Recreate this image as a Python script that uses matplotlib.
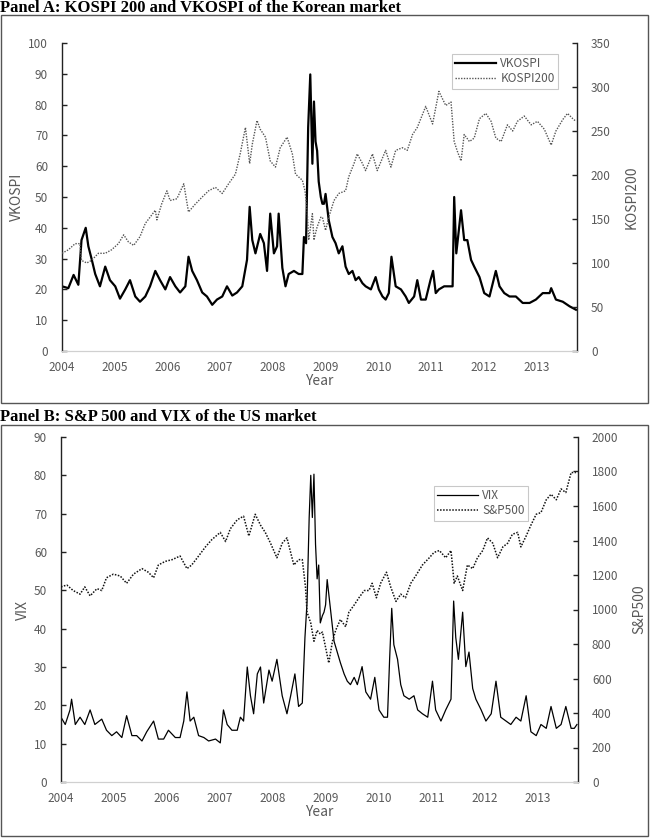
import matplotlib
matplotlib.use("Agg")
import matplotlib.pyplot as plt
from matplotlib.patches import Rectangle

plt.rcParams['font.family'] = ['Noto Sans CJK KR', 'DejaVu Sans']

# ==========================================
# Data
# ==========================================

vkospi_t = [2004.00, 2004.12, 2004.22, 2004.31, 2004.37, 2004.45, 2004.50, 2004.56, 2004.63, 2004.72,
            2004.82, 2004.91, 2005.01, 2005.10, 2005.20, 2005.29, 2005.39, 2005.48, 2005.58, 2005.67,
            2005.77, 2005.86, 2005.96, 2006.05, 2006.15, 2006.24, 2006.34, 2006.40, 2006.47, 2006.56,
            2006.66, 2006.75, 2006.85, 2006.94, 2007.04, 2007.13, 2007.23, 2007.32, 2007.42, 2007.51,
            2007.56, 2007.61, 2007.67, 2007.76, 2007.83, 2007.89, 2007.95, 2008.02, 2008.08, 2008.11,
            2008.18, 2008.24, 2008.30, 2008.40, 2008.49, 2008.56, 2008.59, 2008.63, 2008.67, 2008.71,
            2008.75, 2008.78, 2008.81, 2008.84, 2008.87, 2008.91, 2008.94, 2008.97, 2009.00, 2009.06,
            2009.13, 2009.19, 2009.25, 2009.32, 2009.38, 2009.44, 2009.51, 2009.57, 2009.63, 2009.70,
            2009.76, 2009.86, 2009.95, 2010.01, 2010.08, 2010.14, 2010.20, 2010.25, 2010.33, 2010.43,
            2010.52, 2010.58, 2010.68, 2010.74, 2010.81, 2010.90, 2010.99, 2011.04, 2011.09, 2011.15,
            2011.25, 2011.34, 2011.41, 2011.44, 2011.48, 2011.57, 2011.63, 2011.69, 2011.76, 2011.82,
            2011.92, 2012.01, 2012.11, 2012.23, 2012.30, 2012.39, 2012.49, 2012.61, 2012.74, 2012.87,
            2012.99, 2013.12, 2013.25, 2013.28, 2013.37, 2013.50, 2013.63, 2013.75]
vkospi = [21, 20.4, 24.7, 21.5, 36, 40, 34, 30, 25, 21,
          27.4, 23, 21, 17, 20, 23, 17.7, 16, 17.7, 21,
          26, 23, 20, 24, 21, 19, 21, 30.6, 26, 23,
          19, 17.7, 15, 16.7, 17.7, 21, 18, 19, 21, 29.6,
          46.8, 36, 31.7, 38, 35, 26, 44.6, 31.7, 34, 44.6,
          27, 21, 25, 26, 25, 25, 37, 35, 72.6, 89.8,
          60.8, 81, 68, 65, 55, 50, 47.8, 47.8, 51, 42.5,
          37, 35, 31.7, 34, 27.4, 25, 26, 23, 24, 22,
          21, 20, 24, 20, 17.7, 16.7, 18.8, 30.6, 21, 20,
          17.7, 15.6, 17.7, 23, 16.7, 16.7, 23, 26, 18.8, 20,
          21, 21, 21, 50, 31.7, 45.7, 36, 36, 29.6, 27.4,
          24, 18.8, 17.7, 26, 21, 18.8, 17.7, 17.7, 15.6, 15.6,
          16.7, 18.8, 18.8, 20.4, 16.7, 16, 14.5, 13.4]

kospi_t = [2004.00, 2004.12, 2004.25, 2004.34, 2004.37, 2004.47, 2004.56, 2004.69, 2004.82, 2004.94,
           2005.07, 2005.17, 2005.26, 2005.36, 2005.48, 2005.58, 2005.67, 2005.77, 2005.80, 2005.89,
           2005.99, 2006.05, 2006.18, 2006.31, 2006.40, 2006.53, 2006.66, 2006.78, 2006.91, 2007.04,
           2007.16, 2007.29, 2007.38, 2007.48, 2007.56, 2007.61, 2007.70, 2007.76, 2007.86, 2007.95,
           2008.05, 2008.14, 2008.27, 2008.37, 2008.43, 2008.56, 2008.61, 2008.65, 2008.68, 2008.75,
           2008.78, 2008.81, 2008.84, 2008.91, 2008.94, 2009.00, 2009.06, 2009.16, 2009.25, 2009.38,
           2009.44, 2009.54, 2009.60, 2009.70, 2009.76, 2009.89, 2009.98, 2010.14, 2010.24, 2010.33,
           2010.46, 2010.55, 2010.65, 2010.74, 2010.90, 2011.03, 2011.15, 2011.28, 2011.38, 2011.44,
           2011.50, 2011.57, 2011.63, 2011.73, 2011.82, 2011.92, 2012.04, 2012.14, 2012.23, 2012.33,
           2012.45, 2012.55, 2012.64, 2012.77, 2012.90, 2013.02, 2013.15, 2013.28, 2013.37, 2013.50,
           2013.59, 2013.69, 2013.75]
kospi200 = [111, 115, 122, 122, 103, 100, 103, 111, 111, 115,
            122, 132, 124, 120, 130, 145, 152, 160, 149, 167,
            182, 171, 173, 190, 158, 167, 175, 182, 186, 179,
            190, 201, 224, 254, 213, 235, 262, 252, 243, 216,
            209, 231, 243, 224, 201, 194, 182, 160, 126, 156,
            126, 134, 141, 152, 152, 137, 152, 171, 179, 182,
            198, 213, 224, 213, 205, 224, 205, 228, 209, 228,
            231, 228, 246, 254, 278, 258, 295, 279, 283, 238,
            227, 216, 246, 238, 242, 264, 270, 261, 242, 238,
            257, 250, 261, 267, 257, 261, 252, 234, 250, 263,
            270, 264, 261]

vix_t = [2004.00, 2004.08, 2004.17, 2004.20, 2004.27, 2004.36, 2004.45, 2004.55, 2004.64, 2004.77,
         2004.86, 2004.96, 2005.05, 2005.15, 2005.24, 2005.34, 2005.43, 2005.53, 2005.62, 2005.75,
         2005.84, 2005.94, 2006.03, 2006.16, 2006.25, 2006.32, 2006.38, 2006.44, 2006.51, 2006.60,
         2006.70, 2006.79, 2006.92, 2007.01, 2007.07, 2007.14, 2007.23, 2007.33, 2007.39, 2007.45,
         2007.52, 2007.58, 2007.64, 2007.71, 2007.77, 2007.83, 2007.93, 2007.99, 2008.08, 2008.18,
         2008.27, 2008.34, 2008.42, 2008.49, 2008.56, 2008.61, 2008.65, 2008.69, 2008.72, 2008.75,
         2008.78, 2008.81, 2008.84, 2008.87, 2008.90, 2008.94, 2008.97, 2009.00, 2009.03, 2009.09,
         2009.16, 2009.22, 2009.28, 2009.35, 2009.41, 2009.47, 2009.54, 2009.60, 2009.69, 2009.76,
         2009.85, 2009.93, 2010.01, 2010.10, 2010.17, 2010.21, 2010.25, 2010.29, 2010.36, 2010.42,
         2010.48, 2010.58, 2010.67, 2010.74, 2010.83, 2010.93, 2011.02, 2011.08, 2011.18, 2011.27,
         2011.37, 2011.42, 2011.46, 2011.51, 2011.59, 2011.65, 2011.71, 2011.78, 2011.84, 2011.94,
         2012.03, 2012.13, 2012.22, 2012.31, 2012.41, 2012.50, 2012.60, 2012.69, 2012.79, 2012.88,
         2012.98, 2013.07, 2013.17, 2013.26, 2013.36, 2013.45, 2013.54, 2013.64, 2013.70, 2013.75]
vix = [16.9, 15, 18.8, 21.6, 15, 16.9, 15, 18.8, 15, 16.4,
       13.5, 12.1, 13.1, 11.6, 17.3, 12.1, 12.1, 10.7, 13.1, 15.9,
       11.2, 11.2, 13.5, 11.6, 11.6, 15.9, 23.5, 15.9, 16.9, 12.1,
       11.6, 10.7, 11.2, 10.2, 18.8, 15, 13.5, 13.5, 16.9, 15.9,
       30, 22.5, 17.8, 28.2, 30, 20.6, 29.2, 26.3, 32, 22.5,
       17.8, 22.5, 28.2, 19.7, 20.6, 37.7, 47, 69, 80, 69,
       80.3, 62, 53, 56.6, 41.5, 43.4, 44.3, 46.2, 52.8, 45.3,
       36.7, 33.9, 31.1, 28.2, 26.3, 25.4, 27.3, 25.4, 30.1, 23.5,
       21.6, 27.3, 18.8, 16.9, 16.9, 32, 45.3, 35.8, 32, 25.4,
       22.5, 21.6, 22.5, 18.8, 17.8, 16.9, 26.3, 18.8, 15.9, 18.8,
       21.6, 47.2, 37.7, 32, 44.3, 30.1, 33.9, 24.4, 21.6, 18.8,
       15.9, 17.8, 26.3, 16.9, 15.9, 15, 16.9, 15.9, 22.5, 13.1,
       12.1, 15, 14, 19.7, 14, 15, 19.7, 14, 14, 15]

spx_t = [2004.00, 2004.11, 2004.23, 2004.36, 2004.45, 2004.55, 2004.68, 2004.77, 2004.86, 2004.99,
         2005.12, 2005.24, 2005.37, 2005.53, 2005.65, 2005.75, 2005.84, 2005.97, 2006.10, 2006.25,
         2006.38, 2006.47, 2006.60, 2006.73, 2006.85, 2007.01, 2007.11, 2007.20, 2007.33, 2007.45,
         2007.55, 2007.67, 2007.77, 2007.86, 2007.96, 2008.08, 2008.18, 2008.27, 2008.40, 2008.49,
         2008.56, 2008.62, 2008.65, 2008.72, 2008.78, 2008.84, 2008.90, 2008.94, 2008.99, 2009.06,
         2009.13, 2009.19, 2009.28, 2009.38, 2009.44, 2009.54, 2009.63, 2009.73, 2009.82, 2009.88,
         2009.96, 2010.04, 2010.15, 2010.23, 2010.33, 2010.42, 2010.51, 2010.61, 2010.70, 2010.83,
         2010.96, 2011.05, 2011.15, 2011.27, 2011.37, 2011.43, 2011.49, 2011.59, 2011.68, 2011.78,
         2011.87, 2011.97, 2012.06, 2012.16, 2012.25, 2012.35, 2012.44, 2012.53, 2012.63, 2012.69,
         2012.79, 2012.88, 2012.98, 2013.07, 2013.17, 2013.26, 2013.36, 2013.45, 2013.54, 2013.64,
         2013.73]
spx = [1131, 1142, 1110, 1089, 1131, 1079, 1121, 1110, 1184, 1205,
       1194, 1152, 1205, 1237, 1216, 1184, 1258, 1279, 1289, 1310,
       1237, 1258, 1310, 1363, 1405, 1447, 1394, 1468, 1520, 1541,
       1426, 1552, 1489, 1447, 1384, 1300, 1384, 1415, 1258, 1289,
       1289, 1131, 984, 921, 816, 879, 858, 869, 795, 690,
       816, 879, 942, 900, 984, 1026, 1068, 1110, 1110, 1152,
       1068, 1152, 1216, 1131, 1047, 1089, 1068, 1152, 1194, 1258,
       1300, 1331, 1342, 1300, 1342, 1152, 1194, 1110, 1258, 1237,
       1300, 1342, 1415, 1384, 1300, 1363, 1384, 1436, 1447, 1363,
       1426, 1489, 1552, 1562, 1636, 1668, 1636, 1699, 1678, 1794,
       1794]

years = list(range(2004, 2014))

TICK_COLOR = "#595959"
W, H = 650, 838


def fig_rect(x0, y0, x1, y1):
    # pixel box (top-left origin) -> figure fraction [l, b, w, h]
    return [x0 / W, 1 - y1 / H, (x1 - x0) / W, (y1 - y0) / H]


def style_axes(ax, ax2, ylim, yticks, ylim2, yticks2, ylabel, ylabel2):
    ax.set_xlim(2004, 2013.77)
    ax.set_ylim(*ylim)
    ax.set_yticks(yticks)
    ax2.set_ylim(*ylim2)
    ax2.set_yticks(yticks2)
    ax.set_xticks(years)
    ax.set_xticklabels([str(y) for y in years])

    for a in (ax, ax2):
        a.spines["top"].set_visible(False)
        a.spines["left"].set_color("#222222")
        a.spines["right"].set_color("#222222")
        a.spines["bottom"].set_color("#d0d0d0")
        a.spines["left"].set_linewidth(1.0)
        a.spines["right"].set_linewidth(1.0)
    ax.spines["right"].set_visible(False)
    ax2.spines["left"].set_visible(False)

    ax.tick_params(axis="y", direction="in", length=3.5, width=1.0, color="#222222",
                   labelsize=8.5, labelcolor=TICK_COLOR, pad=10)
    ax2.tick_params(axis="y", direction="in", length=3.5, width=1.0, color="#222222",
                    labelsize=8.5, labelcolor=TICK_COLOR, pad=10)
    ax.tick_params(axis="x", length=0, labelsize=8.5, labelcolor=TICK_COLOR, pad=7)

    ax.set_ylabel(ylabel, fontsize=10, color=TICK_COLOR, labelpad=3)
    ax2.set_ylabel(ylabel2, fontsize=10, color=TICK_COLOR, labelpad=10)
    ax.set_xlabel("Year", fontsize=10, color=TICK_COLOR, labelpad=0)


fig = plt.figure(figsize=(6.5, 8.38), dpi=100)

# panel frames
for (y0, y1) in [(15, 403), (425, 836)]:
    l, b, w, h = fig_rect(0.5, y0, 648, y1)
    fig.patches.append(Rectangle((l, b), w, h, transform=fig.transFigure,
                                 fill=False, edgecolor="#555555", linewidth=1.0))

fig.text(0.0, 1 - 12.5 / H, "Panel A: KOSPI 200 and VKOSPI of the Korean market",
         fontsize=12, fontweight="bold", family="Liberation Serif", va="baseline")
fig.text(0.0, 1 - 421 / H, "Panel B: S&P 500 and VIX of the US market",
         fontsize=12, fontweight="bold", family="Liberation Serif", va="baseline")

# ==========================================
# Panel A
# ==========================================
axA = fig.add_axes(fig_rect(62, 43, 577, 351))
axA2 = axA.twinx()
lA1, = axA.plot(vkospi_t, vkospi, color="black", linewidth=1.6, label="VKOSPI")
lA2, = axA2.plot(kospi_t, kospi200, color="#555555", linewidth=1.0,
                 linestyle=(0, (1, 1)), label="KOSPI200")
style_axes(axA, axA2, (0, 100), range(0, 101, 10), (0, 350), range(0, 351, 50),
           "VKOSPI", "KOSPI200")
legA = axA.legend(handles=[lA1, lA2], loc="upper left", bbox_to_anchor=((446 - 62) / 515, 1 - 5 / 308),
                  fontsize=8.5, frameon=True, fancybox=False, edgecolor="#bbbbbb",
                  handlelength=3.4, handletextpad=0.4, borderpad=0.3, labelspacing=0.15)
for t in legA.get_texts():
    t.set_color(TICK_COLOR)
legA.get_frame().set_linewidth(0.8)

# ==========================================
# Panel B
# ==========================================
axB = fig.add_axes(fig_rect(61, 437, 578, 782))
axB2 = axB.twinx()
lB1, = axB.plot(vix_t, vix, color="black", linewidth=0.9, label="VIX")
lB2, = axB2.plot(spx_t, spx, color="#111111", linewidth=1.1,
                 linestyle=(0, (1, 1)), label="S&P500")
style_axes(axB, axB2, (0, 90), range(0, 91, 10), (0, 2000), range(0, 2001, 200),
           "VIX", "S&P500")
legB = axB.legend(handles=[lB1, lB2], loc="upper left", bbox_to_anchor=((428 - 61) / 517, 1 - 43 / 345),
                  fontsize=8.5, frameon=True, fancybox=False, edgecolor="#bbbbbb",
                  handlelength=3.4, handletextpad=0.4, borderpad=0.3, labelspacing=0.15)
for t in legB.get_texts():
    t.set_color(TICK_COLOR)
legB.get_frame().set_linewidth(0.8)

plt.savefig("out.png", dpi=100)
